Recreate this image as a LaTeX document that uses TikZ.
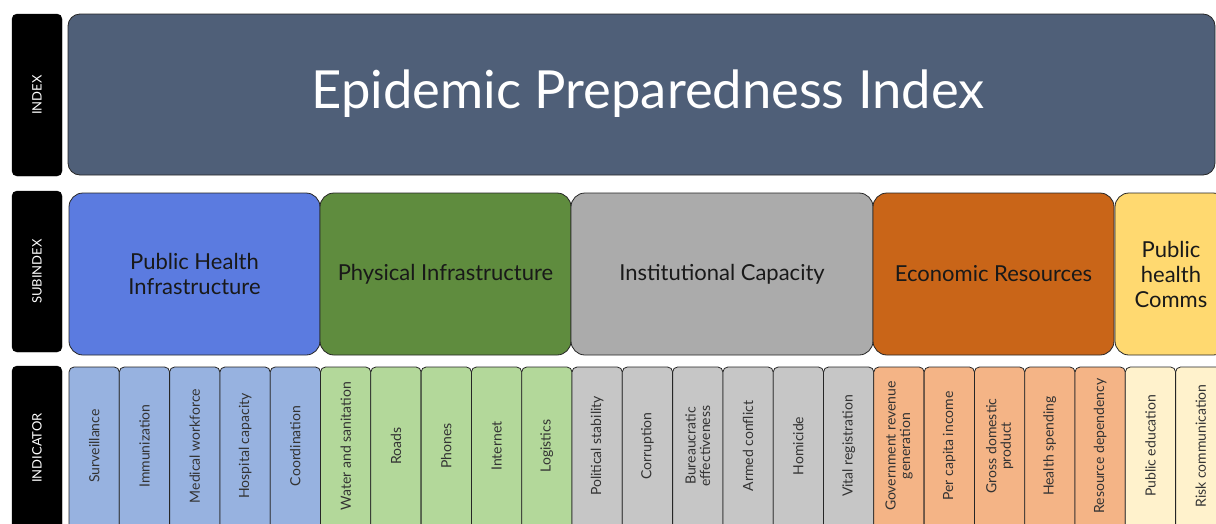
\documentclass[tikz,border=0pt]{standalone}
\usepackage{fontspec}
\setmainfont{Lato}
\usetikzlibrary{positioning}
\definecolor{epislate}{RGB}{79,95,120}
\definecolor{subblue}{RGB}{91,123,224}
\definecolor{subgreen}{RGB}{95,140,62}
\definecolor{subgrey}{RGB}{171,171,171}
\definecolor{suborange}{RGB}{201,101,24}
\definecolor{subyellow}{RGB}{255,217,112}
\definecolor{indblue}{RGB}{151,178,224}
\definecolor{indgreen}{RGB}{179,216,154}
\definecolor{indgrey}{RGB}{198,198,198}
\definecolor{indorange}{RGB}{244,180,134}
\definecolor{indyellow}{RGB}{255,242,204}

\tikzset{
    rowbox/.style={fill=black, draw=black, rounded corners=5pt, minimum width=50pt, inner sep=0pt},
    rowtext/.style={text=white, rotate=90, font=\fontsize{13}{15}\selectfont},
    subbox/.style={draw=black!85, line width=0.8pt, rounded corners=14pt, minimum height=162pt, inner sep=0pt, text=black!90, align=center, font=\fontsize{22}{25}\selectfont},
    indbox/.style={draw=black!85, line width=0.8pt, rounded corners=5pt, minimum width=50.3pt, minimum height=178pt, inner sep=0pt},
    indtext/.style={text=black!80, rotate=90, align=center, font=\fontsize{14}{14.5}\selectfont}
}

\begin{document}
\begin{tikzpicture}[x=1pt, y=-1pt]
\useasboundingbox (0,0) rectangle (1216,523);
\clip (0,0) rectangle (1216,523);

% row labels
\node[rowbox, minimum height=162pt] (lindex) at (37,95) {};
\node[rowtext] at (lindex) {INDEX};
\node[rowbox, minimum height=161pt] (lsub) at (37,271.5) {};
\node[rowtext] at (lsub) {SUBINDEX};
\node[rowbox, minimum height=180pt] (lind) at (37,456) {};
\node[rowtext] at (37,448) {INDICATOR};

% index
\node[draw=black!85, line width=0.8pt, fill=epislate, rounded corners=12pt,
      minimum width=1147pt, minimum height=161pt, inner sep=0pt] (index) at (641.5,94.5) {};
\node[text=white, font=\fontsize{52.5}{60}\selectfont] (title) at (648,94) {Epidemic Preparedness Index};

% subindices
\node[subbox, fill=subblue, minimum width=251pt] (phi) at (194.5,274) {Public Health\\Infrastructure};
\node[subbox, fill=subgreen, minimum width=251pt] (phys) at (445.5,274) {Physical Infrastructure};
\node[subbox, fill=subgrey, minimum width=302pt] (inst) at (722,274) {Institutional Capacity};
\node[subbox, fill=suborange, minimum width=241pt] (econ) at (993.5,274) {Economic Resources};
\node[subbox, fill=subyellow, minimum width=112pt] (comms) at (1171,274) {Public\\health\\Comms};

% indicators
\foreach \txt/\col [count=\i from 0] in {
    Surveillance/indblue, Immunization/indblue, Medical workforce/indblue,
    Hospital capacity/indblue, Coordination/indblue,
    Water and sanitation/indgreen, Roads/indgreen, Phones/indgreen,
    Internet/indgreen, Logistics/indgreen,
    Political stability/indgrey, Corruption/indgrey,
    {Bureaucratic\\effectiveness}/indgrey, Armed conflict/indgrey,
    Homicide/indgrey, Vital registration/indgrey,
    {Government revenue\\generation}/indorange, Per capita income/indorange,
    {Gross domestic\\product}/indorange, Health spending/indorange,
    Resource dependency/indorange,
    Public education/indyellow, Risk communication/indyellow}{
    \pgfmathsetmacro\xc{69+\i*50.3+25.15}
    \node[indbox, fill=\col] (ind\i) at (\xc,456) {};
    \node[indtext] at (\xc,446) {\txt};
}
\end{tikzpicture}
\end{document}
